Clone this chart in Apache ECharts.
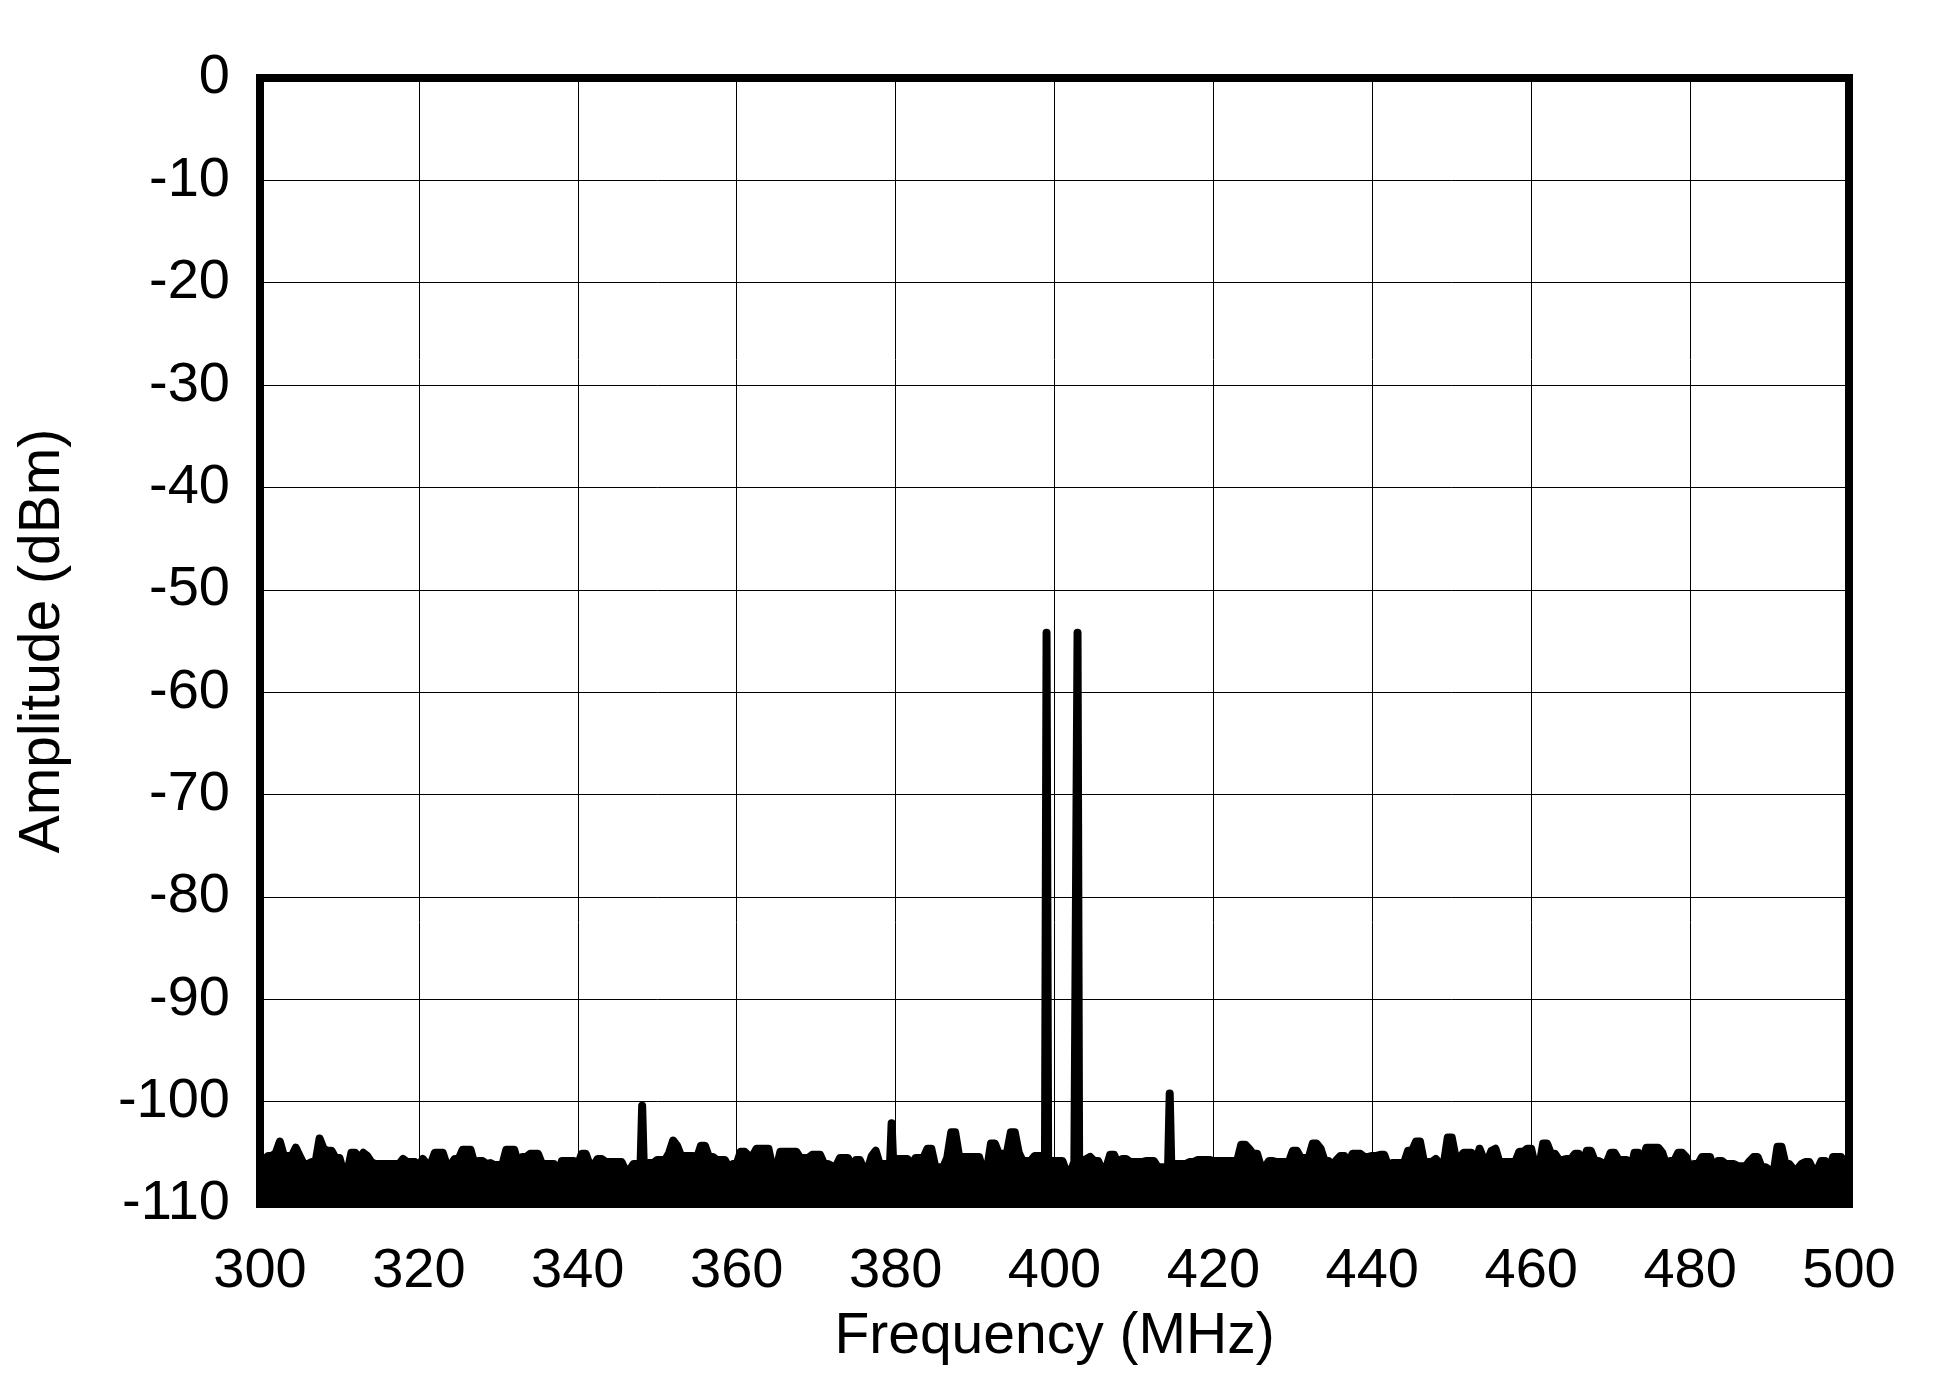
<!DOCTYPE html>
<html>
<head>
<meta charset="utf-8">
<script src="https://cdn.jsdelivr.net/npm/echarts@6/dist/echarts.min.js"></script>
<style>
  html, body { margin: 0; padding: 0; background: #fff; }
  #chart { width: 1934px; height: 1382px; }
</style>
</head>
<body>
<div id="chart"></div>
<script>
// Frequency axis (MHz) and amplitude axis (dBm)
const xTicks = { min: 300, max: 500, step: 20 };
const yTicks = { min: -110, max: 0, step: 10 };

// Noise floor (upper envelope), sampled every 0.5 MHz from 300 to 500 MHz, in dBm
const floorStartMHz = 300;
const floorStepMHz = 0.5;
const floorLevels = [
  -105.8,-105.8,-105.3,-105.3,-105.0,-103.9,-105.3,-105.3,-105.3,-104.5,-105.3,-106.1,-106.1,-105.9,-105.9,-103.6,-104.6,-104.8,-104.8,-105.5,
  -105.5,-106.9,-106.9,-105.0,-105.0,-105.6,-105.0,-105.3,-105.9,-106.1,-106.1,-106.1,-106.1,-106.1,-106.1,-106.1,-105.6,-105.9,-105.9,-105.9,
  -106.3,-105.6,-106.1,-106.1,-105.0,-105.0,-105.0,-106.2,-106.2,-105.6,-105.6,-104.7,-104.7,-104.7,-106.1,-105.8,-105.8,-106.1,-106.0,-106.2,
  -106.2,-106.2,-104.7,-104.7,-104.7,-106.1,-105.4,-105.4,-105.1,-105.1,-105.1,-106.1,-106.1,-106.1,-106.1,-107.0,-105.8,-105.8,-105.8,-105.8,
  -106.2,-105.1,-105.1,-106.2,-106.2,-105.6,-105.6,-105.9,-105.9,-105.9,-105.9,-105.9,-106.7,-106.7,-106.1,-106.1,-106.1,-106.0,-106.0,-106.0,
  -105.7,-105.7,-105.7,-105.0,-103.8,-104.3,-105.3,-105.3,-105.3,-105.3,-105.5,-104.3,-104.3,-105.4,-105.4,-105.7,-105.7,-105.7,-106.4,-106.1,
  -106.1,-104.9,-104.9,-105.3,-105.3,-104.6,-104.6,-104.6,-104.6,-106.5,-106.5,-104.9,-104.9,-104.9,-104.9,-104.9,-105.5,-105.5,-105.5,-105.2,
  -105.2,-105.2,-106.1,-106.1,-106.3,-106.3,-105.5,-105.5,-105.5,-106.6,-105.7,-105.7,-106.6,-106.6,-105.3,-104.8,-106.1,-106.1,-106.1,-106.0,
  -105.6,-105.6,-105.6,-105.6,-106.6,-105.5,-105.5,-105.5,-104.6,-104.6,-106.4,-106.4,-106.4,-105.5,-103.0,-103.0,-105.4,-105.4,-105.4,-105.4,
  -105.4,-105.4,-106.7,-106.7,-104.1,-104.1,-105.1,-105.1,-105.1,-103.0,-103.0,-105.0,-105.8,-105.8,-105.8,-105.3,-105.3,-105.3,-105.5,-105.8,
  -105.8,-105.8,-105.8,-106.9,-106.9,-105.9,-105.9,-105.9,-105.6,-105.4,-105.8,-105.8,-106.7,-106.5,-105.2,-105.2,-106.1,-105.6,-105.6,-105.9,
  -105.9,-105.9,-105.9,-105.8,-105.8,-105.8,-106.4,-106.4,-106.4,-106.2,-106.1,-106.1,-106.1,-106.1,-105.9,-105.9,-105.7,-105.7,-105.7,-105.7,
  -105.8,-105.8,-105.8,-105.8,-105.8,-105.8,-105.8,-104.2,-104.2,-104.6,-105.1,-105.1,-106.4,-106.4,-105.8,-105.8,-105.9,-105.9,-105.9,-105.9,
  -104.8,-104.8,-105.5,-105.5,-105.5,-104.1,-104.1,-104.6,-105.8,-105.8,-106.2,-105.7,-105.3,-105.3,-106.1,-105.1,-105.1,-105.1,-105.4,-105.4,
  -105.3,-105.3,-105.2,-105.2,-106.3,-106.0,-106.0,-106.0,-106.0,-104.8,-104.8,-103.9,-103.9,-105.9,-105.9,-105.9,-105.6,-106.1,-106.1,-103.5,
  -103.5,-105.5,-105.5,-105.0,-105.0,-105.0,-106.1,-104.6,-105.6,-105.8,-104.8,-104.6,-105.9,-105.9,-105.9,-105.9,-105.9,-104.9,-104.9,-104.6,
  -104.6,-106.4,-106.4,-104.1,-104.1,-105.1,-105.1,-105.7,-105.7,-105.6,-105.6,-105.1,-105.1,-106.2,-104.8,-104.8,-105.8,-105.8,-106.0,-106.0,
  -105.0,-105.0,-105.7,-105.7,-105.7,-106.9,-105.0,-105.0,-105.9,-104.5,-104.5,-104.5,-104.5,-105.0,-106.2,-105.8,-105.8,-105.0,-105.0,-105.4,
  -106.5,-106.1,-106.1,-105.4,-105.4,-105.4,-106.6,-105.8,-105.8,-106.1,-106.1,-106.1,-106.3,-106.3,-106.3,-105.8,-105.4,-105.4,-106.4,-106.4,
  -106.7,-107.0,-104.4,-104.4,-106.1,-106.1,-106.6,-106.6,-106.1,-105.9,-105.9,-106.7,-106.7,-105.8,-105.8,-106.7,-105.4,-105.4,-105.4,-106.2,
  -106.2
];

// Discrete tones and spurs (MHz, dBm)
const spurFreqs  = [348.1, 379.5, 399.0, 402.9, 414.5];
const spurLevels = [-100.4, -102.1, -54.2, -54.2, -99.2];

// Build the line data for the library
const spikeHalfWidth = 0.2;
const points = [];
floorLevels.forEach((v, i) => {
  const f = floorStartMHz + i * floorStepMHz;
  const nearSpur = spurFreqs.some(s => Math.abs(s - f) < 0.3);
  if (!nearSpur) points.push([f, v]);
});
spurFreqs.forEach((s, k) => {
  const idx = Math.round((s - floorStartMHz) / floorStepMHz);
  const base = floorLevels[idx];
  points.push([s - spikeHalfWidth, base]);
  points.push([s, spurLevels[k]]);
  points.push([s + spikeHalfWidth, base]);
});
points.sort((a, b) => a[0] - b[0]);

const FONT = '"Liberation Sans", Arial, "DejaVu Sans", sans-serif';

const chart = echarts.init(document.getElementById('chart'), null, { renderer: 'canvas' });
chart.setOption({
  animation: false,
  backgroundColor: '#ffffff',
  grid: {
    left: 260, right: 85, top: 78, bottom: 178,
    show: true, borderColor: '#000', borderWidth: 8, backgroundColor: 'transparent'
  },
  xAxis: {
    type: 'value',
    min: xTicks.min, max: xTicks.max, interval: xTicks.step,
    axisLine: { show: false },
    axisTick: { show: false },
    axisLabel: { fontSize: 56, color: '#000', fontFamily: FONT, margin: 40 },
    splitLine: { show: true, lineStyle: { color: '#000', width: 1 } },
    name: 'Frequency (MHz)',
    nameLocation: 'middle',
    nameGap: 105,
    nameTextStyle: { fontSize: 57, color: '#000', fontFamily: FONT }
  },
  yAxis: {
    type: 'value',
    min: yTicks.min, max: yTicks.max, interval: yTicks.step,
    axisLine: { show: false },
    axisTick: { show: false },
    axisLabel: { fontSize: 56, color: '#000', fontFamily: FONT, margin: 30 },
    splitLine: { show: true, lineStyle: { color: '#000', width: 1 } },
    name: 'Amplitude (dBm)',
    nameLocation: 'middle',
    nameGap: 188,
    nameRotate: 90,
    nameTextStyle: { fontSize: 57, color: '#000', fontFamily: FONT }
  },
  series: [{
    type: 'line',
    data: points,
    showSymbol: false,
    symbol: 'none',
    silent: true,
    clip: true,
    lineStyle: { color: '#000', width: 8, join: 'round', cap: 'round' },
    areaStyle: { color: '#000', opacity: 1, origin: 'start' }
  }]
});
</script>
</body>
</html>
